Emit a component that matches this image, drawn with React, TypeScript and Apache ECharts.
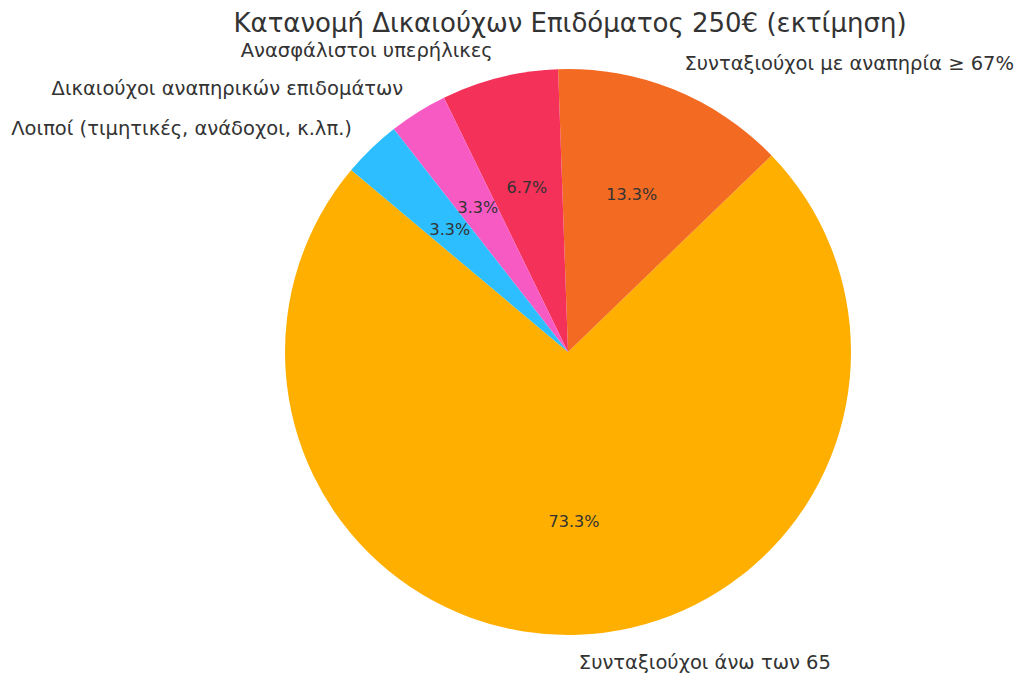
import React, { useEffect, useRef } from "react";
import * as echarts from "echarts";

const TITLE = "Κατανομή Δικαιούχων Επιδόματος 250€ (εκτίμηση)";
const categories = [
  "Συνταξιούχοι άνω των 65",
  "Συνταξιούχοι με αναπηρία ≥ 67%",
  "Ανασφάλιστοι υπερήλικες",
  "Δικαιούχοι αναπηρικών επιδομάτων",
  "Λοιποί (τιμητικές, ανάδοχοι, κ.λπ.)",
];
const values = [22, 4, 2, 1, 1];
const colors = ["#FFAF00", "#F36A22", "#F43158", "#F85AC4", "#2CBEFF"];

const FONT = "DejaVu Sans";

export default function App() {
  const ref = useRef<HTMLDivElement>(null);
  useEffect(() => {
    if (!ref.current) return;
    const chart = echarts.init(ref.current, undefined, { renderer: "svg" });
    const total = values.reduce((a, b) => a + b, 0);
    const data = categories.map((name, i) => ({
      name,
      value: values[i],
      itemStyle: { color: colors[i] },
    }));
    const center = [568, 352];
    const R = 283;
    chart.setOption({
      animation: false,
      backgroundColor: "#ffffff",
      title: {
        text: TITLE,
        left: 565,
        textAlign: "center",
        top: 5,
        textStyle: {
          fontFamily: FONT,
          fontSize: 26,
          fontWeight: "normal",
          color: "#333333",
        },
      },
      series: [
        {
          type: "pie",
          center,
          radius: R,
          startAngle: 140,
          clockwise: false,
          avoidLabelOverlap: false,
          silent: true,
          itemStyle: { borderWidth: 0 },
          label: {
            show: true,
            position: "outside",
            formatter: "{b}",
            fontFamily: FONT,
            fontSize: 19.5,
            color: "#333333",
            distanceToLabelLine: 0,
          },
          labelLine: { show: false, length: 28, length2: 0 },
          emphasis: { disabled: true },
          data,
        },
        {
          type: "pie",
          center,
          radius: [51, R],
          startAngle: 140,
          clockwise: false,
          avoidLabelOverlap: false,
          silent: true,
          itemStyle: { color: "rgba(0,0,0,0)", borderWidth: 0 },
          label: {
            show: true,
            position: "inside",
            formatter: (p: any) => ((p.value / total) * 100).toFixed(1) + "%",
            fontFamily: FONT,
            fontSize: 16,
            color: "#333333",
          },
          labelLine: { show: false },
          emphasis: { disabled: true },
          data: categories.map((name, i) => ({ name, value: values[i] })),
        },
      ],
    });
    return () => chart.dispose();
  }, []);
  return (
    <div
      ref={ref}
      style={{ position: "absolute", left: 0, top: 0, width: 1024, height: 686 }}
    />
  );
}
